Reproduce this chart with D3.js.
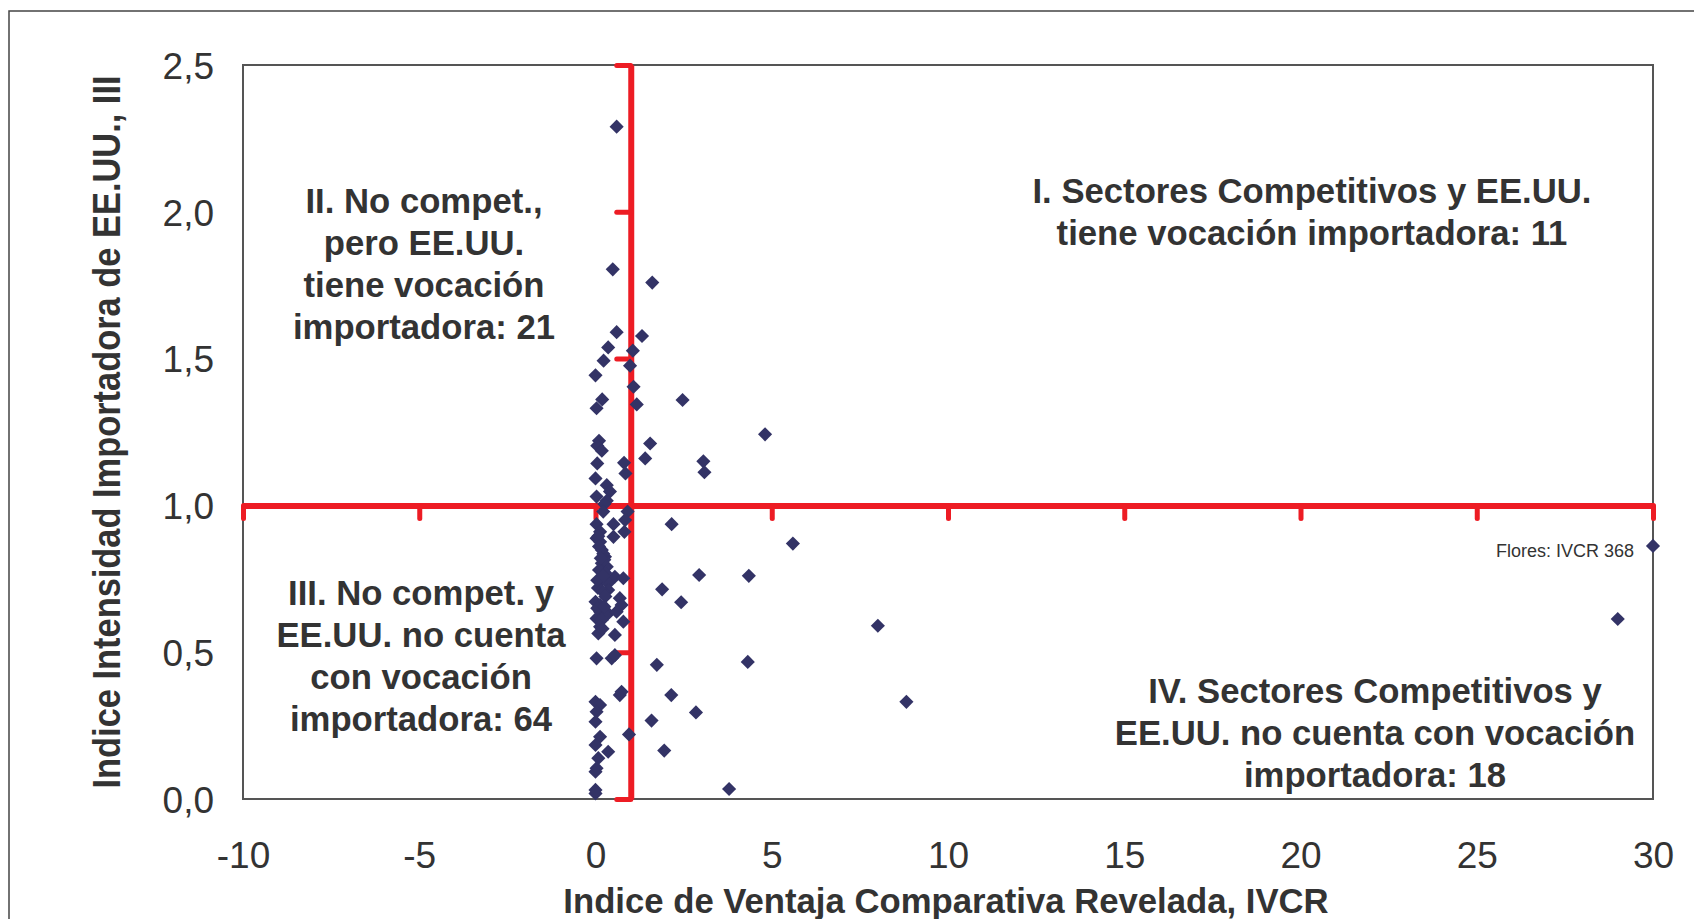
<!DOCTYPE html>
<html>
<head>
<meta charset="utf-8">
<script src="https://cdn.jsdelivr.net/npm/d3@7"></script>
<style>
  body { margin: 0; background: #fff; }
  text { font-family: "Liberation Sans", Arial, sans-serif; fill: #333; }
</style>
</head>
<body>
<script>
// tick values
var xTicks = [-10, -5, 0, 5, 10, 15, 20, 25, 30],
    yTicks = [0, 0.5, 1, 1.5, 2, 2.5];

// [IVCR, III] per quadrant
var quadI = [
  [1.61, 1.759], [1.32, 1.577], [1.06, 1.527], [1.08, 1.404], [1.17, 1.344],
  [2.47, 1.359], [1.55, 1.211], [1.41, 1.160], [4.81, 1.242], [3.06, 1.150],
  [3.09, 1.113]
];
var quadII = [
  [0.60, 2.290], [0.49, 1.804], [0.60, 1.590], [0.36, 1.538], [0.23, 1.493],
  [0.98, 1.476], [0.00, 1.443], [0.19, 1.361], [0.03, 1.331], [0.10, 1.220],
  [0.05, 1.203], [0.18, 1.186], [0.05, 1.143], [0.81, 1.145], [0.85, 1.109],
  [0.00, 1.092], [0.32, 1.069], [0.41, 1.047], [0.03, 1.030], [0.32, 1.016],
  [0.25, 1.005]
];
var quadIII = [
  [0.22, 0.979], [0.91, 0.979], [0.84, 0.950], [0.51, 0.936], [0.03, 0.936],
  [0.13, 0.910], [0.03, 0.888], [0.13, 0.876], [0.82, 0.910], [0.51, 0.893],
  [0.18, 0.848], [0.27, 0.825], [0.18, 0.803], [0.32, 0.791], [0.55, 0.757],
  [0.79, 0.752], [0.18, 0.746], [0.36, 0.735], [0.07, 0.719], [0.36, 0.712],
  [0.00, 0.672], [0.13, 0.661], [0.69, 0.684], [0.74, 0.661], [0.13, 0.638],
  [0.36, 0.632], [0.60, 0.638], [0.03, 0.615], [0.18, 0.610], [0.79, 0.604],
  [0.13, 0.587], [0.08, 0.564], [0.55, 0.559], [0.03, 0.479], [0.46, 0.479],
  [0.55, 0.490], [0.69, 0.354], [0.74, 0.365], [0.00, 0.331], [0.13, 0.320],
  [0.03, 0.297], [0.00, 0.263], [0.13, 0.212], [0.00, 0.184], [0.36, 0.161],
  [0.08, 0.139], [0.03, 0.105], [0.00, 0.093], [0.00, 0.031], [0.00, 0.019],
  [0.08, 0.895], [0.10, 0.860], [0.22, 0.835], [0.25, 0.815], [0.10, 0.780],
  [0.28, 0.770], [0.22, 0.705], [0.28, 0.690], [0.05, 0.650], [0.25, 0.655],
  [0.20, 0.580], [0.05, 0.745], [0.22, 0.760], [0.15, 0.820]
];
var quadIV = [
  [2.16, 0.936], [5.60, 0.870], [2.94, 0.763], [4.35, 0.760], [1.89, 0.714],
  [2.43, 0.670], [8.01, 0.590], [1.74, 0.457], [4.32, 0.467], [2.15, 0.354],
  [8.82, 0.331], [2.85, 0.295], [1.59, 0.267], [1.95, 0.165], [3.79, 0.034],
  [0.95, 0.220], [29.0, 0.613], [30.0, 0.862]
];

var labelI   = ["I. Sectores Competitivos y EE.UU.", "tiene vocación importadora: 11"],
    labelII  = ["II. No compet.,", "pero EE.UU.", "tiene vocación", "importadora: 21"],
    labelIII = ["III. No compet. y", "EE.UU. no cuenta", "con vocación", "importadora: 64"],
    labelIV  = ["IV. Sectores Competitivos y", "EE.UU. no cuenta con vocación", "importadora: 18"];

var width = 1694, height = 919,
    plot = { left: 243, right: 1653, top: 65, bottom: 799 },
    red = "#ED1C24";

var x = d3.scaleLinear().domain([-10, 30]).range([plot.left, plot.right]);
var y = d3.scaleLinear().domain([0, 2.5]).range([plot.bottom, plot.top]);

var svg = d3.select("body").append("svg")
    .attr("width", width)
    .attr("height", height);

// outer frame (runs off the page at right and bottom)
svg.append("rect")
    .attr("x", 9).attr("y", 11)
    .attr("width", 1750).attr("height", 1000)
    .attr("fill", "none").attr("stroke", "#444").attr("stroke-width", 1.5);

// plot area
svg.append("rect")
    .attr("x", plot.left).attr("y", plot.top)
    .attr("width", plot.right - plot.left).attr("height", plot.bottom - plot.top)
    .attr("fill", "none").attr("stroke", "#555").attr("stroke-width", 2);

// tick labels
var yLab = svg.append("g")
    .attr("transform", "translate(" + plot.left + ",0)")
    .call(d3.axisLeft(y).tickValues(yTicks).tickSize(0).tickPadding(29)
      .tickFormat(function(d) { return d3.format(".1f")(d).replace(".", ","); }));
yLab.select(".domain").remove();
yLab.selectAll("text").attr("font-size", 37).attr("dy", "0.36em")
    .style("font-family", "'Liberation Sans', Arial, sans-serif").attr("fill", "#333");

var xLab = svg.append("g")
    .attr("transform", "translate(0," + plot.bottom + ")")
    .call(d3.axisBottom(x).tickValues(xTicks).tickSize(0).tickPadding(43)
      .tickFormat(function(d) { return String(d); }));
xLab.select(".domain").remove();
xLab.selectAll("text").attr("font-size", 37)
    .style("font-family", "'Liberation Sans', Arial, sans-serif").attr("fill", "#333");

// red crossing axes at (1, 1)
var vAxis = svg.append("g")
    .attr("transform", "translate(" + x(1) + ",0)")
    .call(d3.axisLeft(y).tickValues(yTicks).tickSize(14).tickSizeOuter(0).tickFormat(""));
var hAxis = svg.append("g")
    .attr("transform", "translate(0," + y(1) + ")")
    .call(d3.axisBottom(x).tickValues(xTicks).tickSize(13).tickSizeOuter(0).tickFormat(""));

[vAxis, hAxis].forEach(function(g) {
  g.select(".domain").attr("stroke", red).attr("stroke-width", 6);
  g.selectAll(".tick line").attr("stroke", red).attr("stroke-width", 5)
    .attr("stroke-linecap", "round");
});

// points
var diamond = d3.symbol().type(d3.symbolSquare).size(100);
var allPoints = quadI.concat(quadII, quadIII, quadIV);

svg.append("g").selectAll("path")
    .data(allPoints)
  .enter().append("path")
    .attr("d", diamond)
    .attr("fill", "#333366")
    .attr("transform", function(d) {
      return "translate(" + x(d[0]) + "," + y(d[1]) + ") rotate(45)";
    });

// quadrant labels
function block(lines, cx, y0) {
  svg.append("g").selectAll("text")
      .data(lines)
    .enter().append("text")
      .attr("x", cx)
      .attr("y", function(d, i) { return y0 + i * 42; })
      .attr("text-anchor", "middle")
      .attr("font-size", 34.7)
      .attr("font-weight", "bold")
      .text(function(d) { return d; });
}
block(labelI, 1312, 203);
block(labelII, 424, 213);
block(labelIII, 421, 605);
block(labelIV, 1375, 703);

svg.append("text")
    .attr("x", 1634).attr("y", 557)
    .attr("text-anchor", "end")
    .attr("font-size", 18)
    .text("Flores: IVCR 368");

// axis titles
svg.append("text")
    .attr("x", (plot.left + plot.right) / 2 - 2).attr("y", 913)
    .attr("text-anchor", "middle")
    .attr("font-size", 34.7).attr("font-weight", "bold")
    .text("Indice de Ventaja Comparativa Revelada, IVCR");

svg.append("text")
    .attr("transform", "translate(120," + (plot.top + plot.bottom) / 2 + ") rotate(-90)")
    .attr("text-anchor", "middle")
    .attr("font-size", 38).attr("font-weight", "bold")
    .attr("textLength", 713).attr("lengthAdjust", "spacingAndGlyphs")
    .text("Indice Intensidad Importadora de EE.UU., III");
</script>
</body>
</html>
